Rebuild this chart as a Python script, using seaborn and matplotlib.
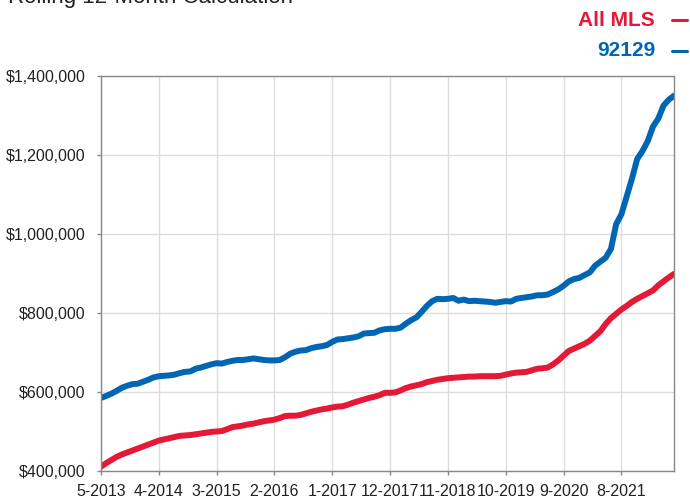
import numpy as np
import pandas as pd
import matplotlib
matplotlib.use("Agg")
import matplotlib.pyplot as plt
from matplotlib.lines import Line2D
import seaborn as sns

# ---- data (thousands of $), monthly 5-2013 .. 6-2022 ----
all_mls = [411, 420, 428, 436, 442, 447, 452, 457, 462, 467,
           472, 477, 480, 483, 486, 489, 490, 491, 493, 495,
           497, 499, 500, 501, 506, 511, 513, 515, 518, 520,
           523, 526, 528, 530, 534, 539, 540, 540, 542, 546,
           550, 553, 556, 558, 561, 563, 564, 568, 573, 577,
           581, 585, 588, 592, 598, 598, 599, 604, 610, 614,
           617, 620, 625, 628, 631, 633, 635, 636, 637, 638,
           639, 639, 640, 640, 640, 640, 641, 644, 647, 649,
           650, 651, 655, 659, 660, 662, 670, 680, 692, 704,
           710, 716, 722, 730, 742, 754, 772, 787, 798, 809,
           818, 828, 836, 843, 850, 857, 870, 880, 890, 899]

zip_92129 = [585, 590, 596, 603, 611, 616, 620, 621, 626, 631,
             637, 640, 641, 642, 644, 648, 651, 652, 659, 662,
             666, 670, 673, 672, 676, 679, 681, 681, 683, 685,
             683, 681, 680, 680, 681, 688, 697, 702, 705, 706,
             711, 714, 716, 719, 727, 733, 734, 736, 738, 741,
             748, 749, 750, 756, 759, 760, 760, 763, 773, 782,
             789, 803, 818, 830, 836, 835, 836, 838, 831, 834,
             830, 831, 830, 829, 828, 826, 828, 830, 829, 836,
             838, 840, 842, 845, 845, 847, 853, 860, 869, 880,
             886, 889, 896, 903, 920, 930, 940, 962, 1025, 1050,
             1095, 1140, 1190, 1210, 1235, 1272, 1292, 1325, 1340, 1350]

tick_labels = ["5-2013", "4-2014", "3-2015", "2-2016", "1-2017",
               "12-2017", "11-2018", "10-2019", "9-2020", "8-2021"]
series_names = ["All MLS", "92129"]
colors = ["#E31937", "#0066B3"]
y_ticks = [400000, 600000, 800000, 1000000, 1200000, 1400000]

n = len(all_mls)
df = pd.DataFrame({
    "month": list(range(n)) * 2,
    "price": [v * 1000 for v in all_mls] + [v * 1000 for v in zip_92129],
    "series": [series_names[0]] * n + [series_names[1]] * n,
})

sns.set_theme(style="whitegrid")
plt.rcParams["font.family"] = ["Liberation Sans", "DejaVu Sans"]

fig = plt.figure(figsize=(6.9, 4.97), dpi=100)
ax = fig.add_axes([101 / 690, 1 - 471 / 497, 573 / 690, 395 / 497])

sns.lineplot(data=df, x="month", y="price", hue="series",
             palette=dict(zip(series_names, colors)), linewidth=4.3,
             legend=False, ax=ax, solid_capstyle="round")

ax.set_xlim(0, n - 1)
ax.set_ylim(400000, 1400000)
ax.set_xticks([i * 11 for i in range(len(tick_labels))])
ax.set_xticklabels(tick_labels)
ax.set_yticks(y_ticks)
ax.set_yticklabels([f"${v:,.0f}" for v in y_ticks])
ax.set_xlabel("")
ax.set_ylabel("")

ax.grid(True, color="#dddddd", linewidth=1.0)
ax.set_facecolor("white")
for s in ax.spines.values():
    s.set_visible(True)
    s.set_color("#888888")
    s.set_linewidth(1.0)
ax.tick_params(axis="both", which="both", length=3, width=1, color="#888888",
               labelsize=11.5, labelcolor="#222222", direction="out")
ax.tick_params(axis="y", pad=8)
ax.tick_params(axis="x", pad=6)
ax.tick_params(bottom=True, left=True)

# cut-off title at very top
fig.text(8 / 690, 1 - 3.5 / 497, "Rolling 12-Month Calculation",
         fontsize=16, color="#222222", ha="left", va="baseline")

# custom legend
for name, col, yc in zip(series_names, colors, [20, 51]):
    yf = 1 - yc / 497
    fig.text(655 / 690, yf, name, color=col, fontsize=15, fontweight="bold",
             ha="right", va="center")
    fig.add_artist(Line2D([672 / 690, 687 / 690], [yf, yf], color=col,
                          linewidth=2.2, transform=fig.transFigure))

fig.savefig("out.png", dpi=100)
